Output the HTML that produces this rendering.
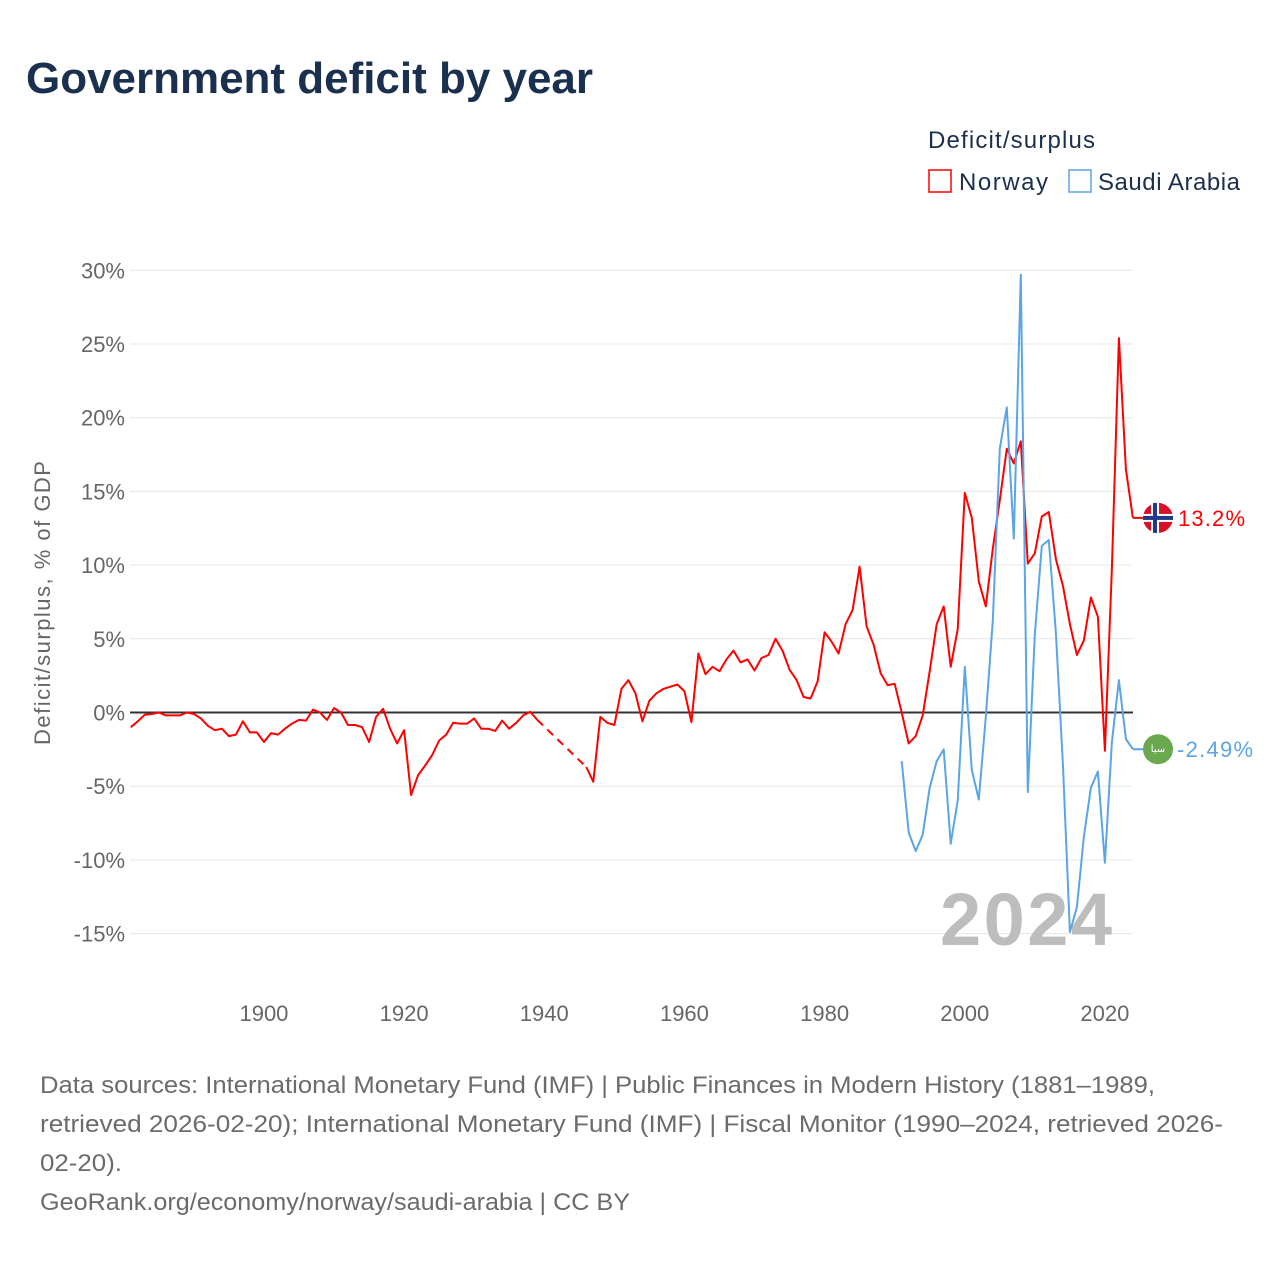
<!DOCTYPE html>
<html><head><meta charset="utf-8"><style>
body{margin:0;background:#fff;font-family:"Liberation Sans",sans-serif;}
#wrap{position:relative;width:1280px;height:1280px;overflow:hidden;}
</style></head><body>
<div id="wrap">
<svg id="chart" width="1280" height="1280"></svg>
</div>
<script>
const years = [];
for (let y = 1881; y <= 2024; y++) years.push(y);
const norwayPre = [-1.0,-0.6,-0.15,-0.1,0,-0.2,-0.2,-0.2,0,-0.1,-0.4,-0.9,-1.2,-1.1,-1.6,-1.5,-0.6,-1.35,-1.35,-2.0,-1.4,-1.5,-1.1,-0.75,-0.5,-0.55,0.2,0,-0.5,0.3,0,-0.85,-0.85,-1.0,-2.0,-0.3,0.25,-1.1,-2.1,-1.2,-5.6,-4.25,-3.6,-2.9,-1.9,-1.5,-0.7,-0.75,-0.75,-0.4,-1.1,-1.1,-1.25,-0.55,-1.1,-0.7,-0.2,0.05,-0.5];
const norwayPreStart = 1881;
const norwayPost = [-3.7,-4.7,-0.3,-0.7,-0.85,1.6,2.2,1.3,-0.6,0.8,1.3,1.6,1.75,1.9,1.45,-0.65,4.0,2.6,3.1,2.8,3.6,4.2,3.4,3.6,2.85,3.7,3.9,5.0,4.2,2.9,2.2,1.05,0.95,2.1,5.45,4.8,4.0,6.0,6.95,9.9,5.85,4.6,2.65,1.85,1.95,0,-2.1,-1.6,-0.2,2.8,6.0,7.2,3.1,5.65,14.9,13.2,8.9,7.2,11.1,14.4,17.9,16.9,18.4,10.1,10.8,13.3,13.6,10.4,8.6,6.0,3.9,4.9,7.8,6.5,-2.6,9.8,25.4,16.5,13.2];
const norwayPostStart = 1946;
const saudi = [-3.3,-8.15,-9.4,-8.3,-5.1,-3.3,-2.5,-8.9,-6.0,3.1,-3.9,-5.9,-0.3,6.2,17.9,20.7,11.8,29.7,-5.4,5.3,11.3,11.7,5.4,-3.5,-14.9,-13.2,-8.4,-5.1,-4.0,-10.2,-2.0,2.2,-1.8,-2.49];
const saudiStart = 1991;
const yTicks = [30,25,20,15,10,5,0,-5,-10,-15];
const xTicks = [1900,1920,1940,1960,1980,2000,2020];

const NS = "http://www.w3.org/2000/svg";
const svg = document.getElementById('chart');
const X = yr => 130.8 + (yr - 1881) * 7.008;
const Y = v => 712.5 - v * 14.74;
function el(tag, attrs, parent) {
  const e = document.createElementNS(NS, tag);
  for (const k in attrs) e.setAttribute(k, attrs[k]);
  (parent || svg).appendChild(e);
  return e;
}
function txt(s, attrs) { const t = el('text', attrs); t.textContent = s; return t; }

let t = txt('Government deficit by year', {x:26, y:93, 'font-size':44, 'font-weight':'bold', fill:'#1b2f4e', textLength:567});
 
t = txt('Deficit/surplus', {x:928, y:148, 'font-size':24, fill:'#1b2f4e', textLength:167});
 
let r = el('rect', {x:929, y:170, width:22, height:22, fill:'none', stroke:'#f00', 'stroke-width':1.5});
 
t = txt('Norway', {x:959, y:190, 'font-size':24, fill:'#1b2f4e', textLength:89});
 
r = el('rect', {x:1069, y:170, width:22, height:22, fill:'none', stroke:'#5ba4e6', 'stroke-width':1.5});
 
t = txt('Saudi Arabia', {x:1098, y:190, 'font-size':24, fill:'#1b2f4e', textLength:142});
 

yTicks.forEach(v => {
  const g = el('line', {x1:130, x2:1133, y1:Y(v), y2:Y(v), stroke:'#e6e6e6', 'stroke-width':1});
   
  const l = txt(v + '%', {x:125, y:Y(v) + 8, 'font-size':22, fill:'#666', 'text-anchor':'end'});
   
});
xTicks.forEach(v => {
  const l = txt(String(v), {x:X(v), y:1021, 'font-size':22, fill:'#666', 'text-anchor':'middle'});
   
});
t = txt('Deficit/surplus, % of GDP', {x:0, y:0, 'font-size':22, fill:'#666', 'text-anchor':'middle', textLength:284, transform:'translate(50,603) rotate(-90)'});
 

t = txt('2024', {x:940, y:945, 'font-size':74, 'font-weight':'bold', fill:'#bdbdbd', textLength:172});
 

let z = el('line', {x1:130, x2:1133, y1:Y(0), y2:Y(0), stroke:'#333', 'stroke-width':2});
 

function path(arr, start) { return arr.map((v, i) => (i ? 'L' : 'M') + X(start + i).toFixed(1) + ',' + Y(v).toFixed(1)).join(''); }
let p = el('path', {d:path(norwayPre, norwayPreStart), fill:'none', stroke:'#f00', 'stroke-width':2, 'stroke-linejoin':'round'});
 
const lastPre = norwayPreStart + norwayPre.length - 1;
p = el('path', {d:'M' + X(lastPre) + ',' + Y(norwayPre[norwayPre.length - 1]) + 'L' + X(norwayPostStart) + ',' + Y(norwayPost[0]), fill:'none', stroke:'#f00', 'stroke-width':2, 'stroke-dasharray':'8,6'});
 
p = el('path', {d:path(norwayPost, norwayPostStart), fill:'none', stroke:'#f00', 'stroke-width':2, 'stroke-linejoin':'round'});
 
p = el('path', {d:path(saudi, saudiStart), fill:'none', stroke:'#5ba4e6', 'stroke-width':2, 'stroke-linejoin':'round'});
 

const nLast = norwayPost[norwayPost.length - 1], sLast = saudi[saudi.length - 1];
p = el('line', {x1:X(2024), x2:1150, y1:Y(nLast), y2:Y(nLast), stroke:'#f00', 'stroke-width':2});
 
p = el('line', {x1:X(2024), x2:1150, y1:Y(sLast), y2:Y(sLast), stroke:'#5ba4e6', 'stroke-width':2});
 
const fg = el('g', {});
 
const ny = Y(nLast);
el('circle', {cx:1158, cy:ny, r:15, fill:'#d8102a'}, fg);
el('rect', {x:1143, y:ny - 4, width:30, height:8, fill:'#fff'}, fg);
el('rect', {x:1151, y:ny - 15, width:8, height:30, fill:'#fff'}, fg);
el('rect', {x:1143, y:ny - 2, width:30, height:4, fill:'#1f3a8a'}, fg);
el('rect', {x:1153, y:ny - 15, width:4, height:30, fill:'#1f3a8a'}, fg);
t = txt(nLast.toFixed(1) + '%', {x:1178, y:ny + 8, 'font-size':22, fill:'#f00', textLength:67});
 
const sy = Y(sLast);
let c = el('circle', {cx:1158, cy:sy, r:15, fill:'#6aa84f'});
 
t = txt('سيا', {x:1158, y:sy + 3, 'font-size':10, fill:'#fff', 'text-anchor':'middle'});
 
t = txt(sLast.toFixed(2) + '%', {x:1177, y:sy + 8, 'font-size':22, fill:'#5ba4e6', textLength:76});
 

const foot = ['Data sources: International Monetary Fund (IMF) | Public Finances in Modern History (1881–1989,',
 'retrieved 2026-02-20); International Monetary Fund (IMF) | Fiscal Monitor (1990–2024, retrieved 2026-',
 '02-20).', 'GeoRank.org/economy/norway/saudi-arabia | CC BY'];
const footLen = [1115, 1183, 82, 590];
foot.forEach((s, i) => {
  const f = txt(s, {x:40, y:1093 + i * 39, 'font-size':24, fill:'#6b6b6b', textLength:footLen[i], lengthAdjust:'spacingAndGlyphs'});
   
});
</script>
</body></html>
